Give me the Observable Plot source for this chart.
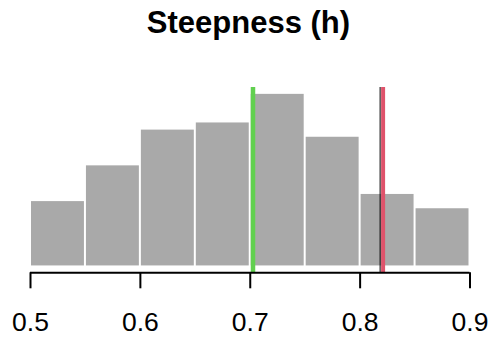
<!DOCTYPE html>
<html>
<head>
<meta charset="utf-8">
<script src="https://cdn.jsdelivr.net/npm/d3@7"></script>
<script src="https://cdn.jsdelivr.net/npm/@observablehq/plot@0.6"></script>
<style>
  body { margin: 0; background: #fff; font-family: "Liberation Sans", Arial, sans-serif; }
  #wrap { width: 491px; height: 337px; overflow: hidden; }
  #title { height: 50px; box-sizing: border-box; padding-top: 7px; padding-left: 6px; line-height: 31px; font-size: 31px; font-weight: bold; text-align: center; color: #000; }
</style>
</head>
<body>
<div id="wrap">
  <div id="title">Steepness (h)</div>
  <div id="chart"></div>
</div>
<script>
const binStart = [0.50, 0.55, 0.60, 0.65, 0.70, 0.75, 0.80, 0.85];
const binEnd   = [0.55, 0.60, 0.65, 0.70, 0.75, 0.80, 0.85, 0.90];
const counts   = [9, 14, 19, 20, 24, 18, 10, 8];
const xTicks   = [0.5, 0.6, 0.7, 0.8, 0.9];
const refLines = [
  {name: "true",  value: 0.8182},
  {name: "green", value: 0.7025},
  {name: "red",   value: 0.8200}
];

const bins = binStart.map((s, i) => ({x1: s, x2: binEnd[i], y: counts[i]}));
const yMax = d3.max(counts);
const yDomain = [-0.04 * yMax, yMax * 1.04];

const chart = Plot.plot({
  width: 491,
  height: 287,
  marginLeft: 30,
  marginRight: 21.5,
  marginTop: 37,
  marginBottom: 64.7,
  style: {fontFamily: "'Liberation Sans', Arial, sans-serif", background: "#fff"},
  x: {domain: [xTicks[0], xTicks[xTicks.length - 1]]},
  y: {domain: yDomain, axis: null},
  marks: [
    Plot.rectY(bins, {x1: "x1", x2: "x2", y1: 0, y2: "y", fill: "#A9A9A9", insetLeft: 1, insetRight: 1}),
    Plot.ruleX([refLines[0]], {x: "value", stroke: "#000", strokeWidth: 1}),
    Plot.ruleX([refLines[1]], {x: "value", stroke: "#61D04F", strokeWidth: 4.5}),
    Plot.ruleX([refLines[2]], {x: "value", stroke: "#DF536B", strokeWidth: 4, dx: 1}),
    Plot.ruleY([yDomain[0]], {x1: xTicks[0], x2: xTicks[xTicks.length - 1], stroke: "#000", strokeWidth: 2}),
    Plot.axisX({ticks: xTicks, tickFormat: d => d.toFixed(1), tickSize: 16, tickPadding: 23, fontSize: 26.5, stroke: "#000", strokeWidth: 2, color: "#000", strokeOpacity: 1})
  ]
});
chart.style.display = "block";
document.getElementById("chart").appendChild(chart);
</script>
</body>
</html>
